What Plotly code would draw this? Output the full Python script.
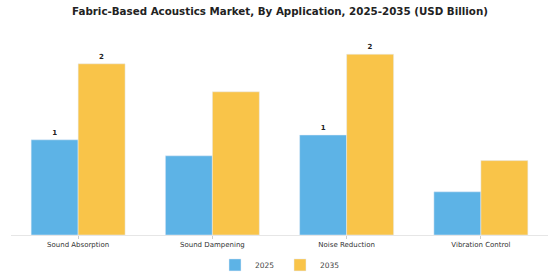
import plotly.graph_objects as go

categories = ["Sound Absorption", "Sound Dampening", "Noise Reduction", "Vibration Control"]
v2025 = [1.19, 0.99, 1.25, 0.54]
v2035 = [2.14, 1.79, 2.26, 0.93]
t2025 = ["<b>1</b>", "", "<b>1</b>", ""]
t2035 = ["<b>2</b>", "", "<b>2</b>", ""]

fig = go.Figure()
fig.add_trace(go.Bar(name="2025", x=categories, y=v2025, text=t2025,
                     textposition="outside", marker_color="#5DB3E6",
                     textfont=dict(size=7, color="#222", family="DejaVu Sans"),
                     cliponaxis=False))
fig.add_trace(go.Bar(name="2035", x=categories, y=v2035, text=t2035,
                     textposition="outside", marker_color="#F9C449",
                     textfont=dict(size=7, color="#222", family="DejaVu Sans"),
                     cliponaxis=False))

fig.update_layout(
    width=560, height=280,
    margin=dict(l=11, r=12, t=30, b=45, autoexpand=False),
    paper_bgcolor="white", plot_bgcolor="white",
    barmode="group", bargap=0.3, bargroupgap=0,
    font=dict(family="DejaVu Sans", size=7, color="#333"),
    title=dict(text="<b>Fabric-Based Acoustics Market, By Application, 2025-2035 (USD Billion)</b>",
               x=0.5, xanchor="center", y=0.96, yanchor="middle",
               font=dict(size=10.3, color="#222", family="DejaVu Sans")),
    showlegend=True,
    legend=dict(orientation="h", xref="container", x=0.5, xanchor="center", yref="container",
                y=0.054, yanchor="middle", itemwidth=30, entrywidth=20,
                font=dict(size=7.5, color="#444"), traceorder="normal"),
)
fig.update_xaxes(showline=True, linecolor="#e6e6e6", linewidth=1, ticks="outside",
                 ticklen=3, tickcolor="#cccccc", showgrid=False, automargin=False,
                 tickfont=dict(size=7, color="#333"))
fig.update_yaxes(visible=False, range=[0, 2.5625], showgrid=False)

fig.write_html("out.html")
